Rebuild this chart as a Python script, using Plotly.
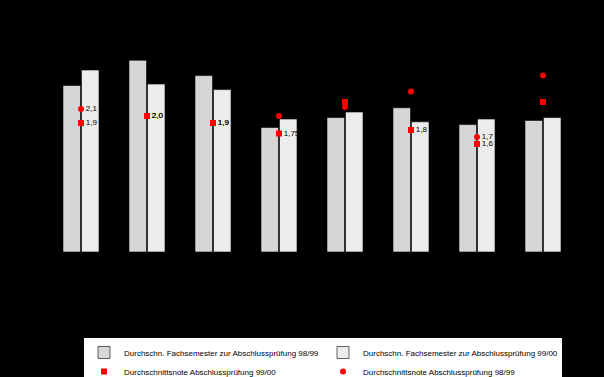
import plotly.graph_objects as go

categories = ["Fach 1", "Fach 2", "Fach 3", "Fach 4", "Fach 5", "Fach 6", "Fach 7", "Fach 8"]
semester_9899 = [11.9, 13.7, 12.6, 8.9, 9.6, 10.3, 9.1, 9.4]
semester_9900 = [13.0, 12.0, 11.6, 9.5, 10.0, 9.3, 9.5, 9.6]
note_9900 = [1.9, 2.0, 1.9, 1.75, 2.2, 1.8, 1.6, 2.2]
note_9899 = [2.1, 2.0, 1.9, 2.0, 2.13, 2.35, 1.7, 2.58]

def de(v):
    s = ("%.2f" % v).rstrip("0")
    if s.endswith("."):
        s += "0"
    return s.replace(".", ",")

font = "Liberation Sans, Arial, sans-serif"

fig = go.Figure()
fig.add_trace(go.Bar(x=categories, y=semester_9899,
                     name="Durchschn. Fachsemester zur Abschlussprüfung 98/99",
                     marker=dict(color="#D6D6D6", line=dict(width=0.6, color="#000000"))))
fig.add_trace(go.Bar(x=categories, y=semester_9900,
                     name="Durchschn. Fachsemester zur Abschlussprüfung 99/00",
                     marker=dict(color="#ECECEC", line=dict(width=0.6, color="#000000"))))
fig.add_trace(go.Scatter(x=categories, y=note_9900, yaxis="y2", mode="markers+text",
                         name="Durchschnittsnote Abschlussprüfung 99/00",
                         marker=dict(symbol="square", size=6, color="#FF0000"),
                         text=[de(v) for v in note_9900], textposition="middle right",
                         textfont=dict(color="#000000", size=8, family=font)))
fig.add_trace(go.Scatter(x=categories, y=note_9899, yaxis="y2", mode="markers+text",
                         name="Durchschnittsnote Abschlussprüfung 98/99",
                         marker=dict(symbol="circle", size=6, color="#FF0000"),
                         text=[de(v) for v in note_9899], textposition="middle right",
                         textfont=dict(color="#000000", size=8, family=font)))

fig.update_layout(
    width=604, height=377,
    paper_bgcolor="#000000", plot_bgcolor="#000000",
    margin=dict(l=48, r=28, t=20, b=125),
    barmode="group", bargap=0.44, bargroupgap=0.05,
    font=dict(family=font, size=8, color="#000000"),
    xaxis=dict(showticklabels=False, showgrid=False, zeroline=False, showline=False, ticks=""),
    yaxis=dict(range=[0, 232 / 14], showticklabels=False, showgrid=False, zeroline=False,
               showline=False, ticks=""),
    yaxis2=dict(range=[4 / 70, 236 / 70], overlaying="y", side="right", showticklabels=False,
                showgrid=False, zeroline=False, showline=False, ticks=""),
    legend=dict(orientation="h", xref="container", yref="container",
                x=84 / 604, xanchor="left", y=1 - 338 / 377, yanchor="top",
                bgcolor="#FFFFFF", bordercolor="#000000", borderwidth=0,
                font=dict(size=8, color="#000000", family=font),
                entrywidth=194, entrywidthmode="pixels", tracegroupgap=0,
                itemsizing="trace"),
    showlegend=True,
)

fig.write_html("out.html")
